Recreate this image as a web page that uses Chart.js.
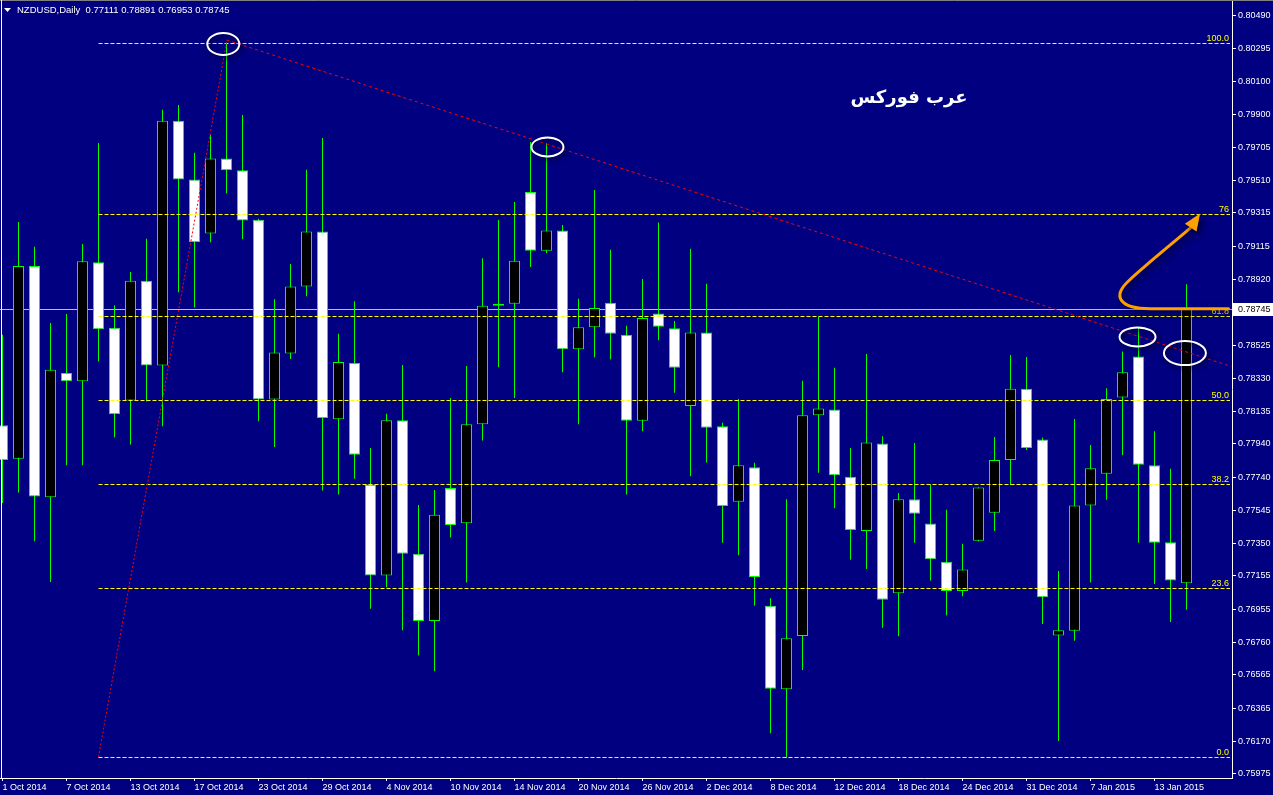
<!DOCTYPE html>
<html>
<head>
<meta charset="utf-8">
<script src="https://cdn.jsdelivr.net/npm/chart.js@4.4.1/dist/chart.umd.min.js"></script>
<style>
html,body{margin:0;padding:0;background:#000080;overflow:hidden}
canvas{display:block}
</style>
</head>
<body>
<canvas id="c" width="1273" height="795"></canvas>
<script>
// ---------- data ----------
const symbolName = 'NZDUSD,Daily';
const opens  = [0.78051,0.77851,0.78999,0.77622,0.78363,0.78313,0.79022,0.78631,0.78198,0.78911,
                0.78407,0.79864,0.79514,0.79193,0.79640,0.79570,0.79275,0.78204,0.78478,0.78878,
                0.79205,0.78087,0.78422,0.77698,0.77156,0.78081,0.77286,0.76886,0.77677,0.77468,
                0.78057,0.78763,0.78775,0.79440,0.79090,0.79211,0.78504,0.78634,0.78781,0.78590,
                0.78078,0.78716,0.78628,0.78166,0.78604,0.78045,0.77595,0.77801,0.76977,0.76480,
                0.76797,0.78110,0.78145,0.77745,0.77421,0.77942,0.77051,0.77610,0.77466,0.77239,
                0.77065,0.77363,0.77530,0.77845,0.78269,0.77966,0.76800,0.76827,0.77574,0.77763,
                0.78216,0.78460,0.77813,0.77354,0.77111];
const highs  = [0.78590,0.79261,0.79114,0.78660,0.78713,0.79131,0.79732,0.78766,0.78964,0.79161,
                0.79929,0.79958,0.79673,0.79779,0.80329,0.79899,0.79280,0.78802,0.79011,0.79573,
                0.79761,0.78596,0.78790,0.77916,0.78119,0.78410,0.77577,0.77666,0.78213,0.78404,
                0.79046,0.79273,0.79381,0.79738,0.79732,0.79243,0.78805,0.79452,0.79096,0.78643,
                0.78922,0.79258,0.78672,0.79102,0.78893,0.78066,0.78207,0.77828,0.77021,0.77610,
                0.78316,0.78699,0.78393,0.77916,0.78475,0.77986,0.77648,0.77945,0.77698,0.77548,
                0.77345,0.77682,0.77981,0.78469,0.78457,0.77978,0.77183,0.78089,0.77933,0.78272,
                0.78490,0.78634,0.78016,0.77792,0.78891];
const lows   = [0.77589,0.77651,0.77360,0.77118,0.77813,0.77813,0.78431,0.77978,0.77936,0.78192,
                0.78045,0.78843,0.78752,0.79140,0.79431,0.79158,0.78075,0.77922,0.78446,0.78819,
                0.77663,0.77639,0.77733,0.76959,0.77086,0.76830,0.76680,0.76586,0.77383,0.77115,
                0.77960,0.78396,0.78213,0.78993,0.79075,0.78366,0.78057,0.78454,0.78443,0.77639,
                0.78016,0.78557,0.78245,0.77748,0.77830,0.77351,0.77277,0.76977,0.76218,0.76071,
                0.76594,0.77769,0.77557,0.77251,0.77195,0.76845,0.76795,0.77351,0.77127,0.76918,
                0.77033,0.77361,0.77421,0.77695,0.77904,0.76868,0.76171,0.76768,0.77115,0.77607,
                0.77872,0.77351,0.77106,0.76880,0.76953];
const closes = [0.77845,0.78999,0.77627,0.78381,0.78313,0.79028,0.78622,0.78116,0.78911,0.78407,
                0.79864,0.79514,0.79140,0.79640,0.79570,0.79270,0.78204,0.78484,0.78878,0.79205,
                0.78095,0.78428,0.77875,0.77156,0.78081,0.77286,0.76886,0.77519,0.77457,0.78057,
                0.78763,0.78775,0.79031,0.79090,0.79211,0.78504,0.78634,0.78749,0.78596,0.78078,
                0.78690,0.78637,0.78393,0.78604,0.78036,0.77571,0.77813,0.77148,0.76483,0.76783,
                0.78110,0.78151,0.77754,0.77427,0.77948,0.77012,0.77610,0.77524,0.77254,0.77065,
                0.77192,0.77680,0.77845,0.78269,0.77916,0.77027,0.76830,0.77574,0.77795,0.78207,
                0.78366,0.77816,0.77351,0.77127,0.78745];

const xTickIndex  = [0,4,8,12,16,20,24,28,32,36,40,44,48,52,56,60,64,68,72];
const xTickLabels = ['1 Oct 2014','7 Oct 2014','13 Oct 2014','17 Oct 2014','23 Oct 2014','29 Oct 2014',
                     '4 Nov 2014','10 Nov 2014','14 Nov 2014','20 Nov 2014','26 Nov 2014','2 Dec 2014',
                     '8 Dec 2014','12 Dec 2014','18 Dec 2014','24 Dec 2014','31 Dec 2014','7 Jan 2015','13 Jan 2015'];
const yTickLabels = ['0.80490','0.80295','0.80100','0.79900','0.79705','0.79510','0.79315','0.79115',
                     '0.78920','0.78725','0.78525','0.78330','0.78135','0.77940','0.77740','0.77545',
                     '0.77350','0.77155','0.76955','0.76760','0.76565','0.76365','0.76170','0.75975'];

// Fibonacci retracement
const fibLevels = [100, 76, 61.8, 50, 38.2, 23.6, 0];
const fibLabels = ['100.0', '76', '61.8', '50.0', '38.2', '23.6', '0.0'];
const fibHigh = 0.80329;
const fibLow = 0.76076;
const fibStartIndex = 6;
const fibHighIndex = 14;

// trend line (index, price)
const trendStart = [14, 0.80345];
const trendEnd = [76.8, 0.78401];

// ellipse marks: index, price
const markIndex = [13.8, 34.06, 70.94, 73.9];
const markPrice = [0.80321, 0.79708, 0.78577, 0.78481];

// orange arrow path points (index, price)
const arrowIndex = [76.625, 71.75, 69.75, 69.375, 70.375, 71.4375, 73.0, 74.25, 74.85];
const arrowPrice = [0.78745, 0.78745, 0.78745, 0.78821, 0.78910, 0.79005, 0.79124, 0.79226, 0.79312];

const brandText = 'عرب فوركس';

// ---------- chart ----------
Chart.defaults.font.family = "'Liberation Sans', Arial, sans-serif";
Chart.defaults.font.size = 9;

const idx = opens.map((_, i) => i);
const bodies = idx.map(i => ({x: i, y: [opens[i], closes[i]]}));
const wicks = idx.map(i => ({x: i, y: [lows[i], highs[i]]}));
const bodyFill = idx.map(i => closes[i] > opens[i] ? '#000000' : '#ffffff');
const lastClose = closes[closes.length - 1];

const overlay = {
  id: 'overlay',
  beforeDraw(chart) {
    const c = chart.ctx;
    c.save();
    c.fillStyle = '#000080';
    c.fillRect(0, 0, chart.width, chart.height);
    c.restore();
  },
  beforeDatasetsDraw(chart) {
    const c = chart.ctx, a = chart.chartArea, ys = chart.scales.y;
    const y = Math.round(ys.getPixelForValue(lastClose)) + 0.5;
    c.save();
    c.strokeStyle = '#c0c0c0';
    c.lineWidth = 1;
    c.beginPath(); c.moveTo(a.left, y); c.lineTo(a.right, y); c.stroke();
    c.restore();
  },
  afterDatasetsDraw(chart) {
    const c = chart.ctx, a = chart.chartArea, xs = chart.scales.x, ys = chart.scales.y;
    const px = v => xs.getPixelForValue(v), py = v => ys.getPixelForValue(v);
    c.save();
    c.beginPath(); c.rect(a.left, a.top, a.right - a.left, a.bottom - a.top); c.clip();

    // fib levels
    c.lineWidth = 1;
    c.strokeStyle = '#ffff00';
    c.setLineDash([4, 2]);
    const fx0 = px(fibStartIndex);
    fibLevels.forEach((lv, k) => {
      const price = fibLow + (fibHigh - fibLow) * lv / 100;
      const y = Math.round(py(price)) + 0.5;
      c.beginPath(); c.moveTo(fx0, y); c.lineTo(a.right - 2, y); c.stroke();
    });
    c.setLineDash([]);
    c.fillStyle = '#ffff00';
    c.font = "9px 'Liberation Sans', Arial, sans-serif";
    c.textAlign = 'right';
    c.textBaseline = 'bottom';
    fibLevels.forEach((lv, k) => {
      const price = fibLow + (fibHigh - fibLow) * lv / 100;
      const y = Math.round(py(price));
      c.fillText(fibLabels[k], a.right - 3, y);
    });

    // fib diagonal (red dotted)
    c.strokeStyle = '#ff0000';
    c.lineWidth = 1;
    c.setLineDash([2, 2]);
    c.beginPath(); c.moveTo(px(fibStartIndex), py(fibLow)); c.lineTo(px(fibHighIndex), py(fibHigh)); c.stroke();
    // trend line
    c.setLineDash([3, 3]);
    c.beginPath(); c.moveTo(px(trendStart[0]), py(trendStart[1])); c.lineTo(px(trendEnd[0]), py(trendEnd[1])); c.stroke();
    c.setLineDash([]);

    // ellipses
    const radii = [[16, 11], [16, 9.5], [18, 9.5], [21, 12]];
    c.strokeStyle = '#ffffff';
    c.lineWidth = 2;
    c.shadowColor = 'rgba(0,0,30,0.9)';
    c.shadowBlur = 5;
    c.shadowOffsetX = 2; c.shadowOffsetY = 2;
    markIndex.forEach((mi, k) => {
      c.beginPath();
      c.ellipse(px(mi), py(markPrice[k]), radii[k][0], radii[k][1], 0, 0, Math.PI * 2);
      c.stroke();
    });

    // orange arrow
    const P = arrowIndex.map((ai, k) => [px(ai), py(arrowPrice[k])]);
    c.strokeStyle = '#ffa000';
    c.fillStyle = '#ffa000';
    c.lineWidth = 3;
    c.lineCap = 'round';
    c.shadowColor = 'rgba(0,0,30,0.8)';
    c.shadowBlur = 6; c.shadowOffsetX = 3; c.shadowOffsetY = 3;
    c.beginPath();
    c.moveTo(P[0][0], P[0][1]);
    c.lineTo(P[1][0], P[1][1]);
    c.bezierCurveTo(P[2][0], P[2][1], P[3][0], P[3][1], P[4][0], P[4][1]);
    c.bezierCurveTo(P[5][0], P[5][1], P[6][0], P[6][1], P[7][0], P[7][1]);
    c.stroke();
    const tip = P[8], base = P[7];
    const ang = Math.atan2(tip[1] - base[1], tip[0] - base[0]);
    const L = 17, W = 7;
    const bx = tip[0] - L * Math.cos(ang), by = tip[1] - L * Math.sin(ang);
    c.beginPath();
    c.moveTo(tip[0], tip[1]);
    c.lineTo(bx + W * Math.sin(ang), by - W * Math.cos(ang));
    c.lineTo(bx - W * Math.sin(ang), by + W * Math.cos(ang));
    c.closePath();
    c.fill();
    c.restore();

    // brand text
    c.save();
    c.fillStyle = '#ffffff';
    c.font = "bold 18px 'DejaVu Sans', sans-serif";
    c.textAlign = 'center';
    c.textBaseline = 'middle';
    c.fillText(brandText, 909, 98);
    c.restore();
  },
  afterDraw(chart) {
    const c = chart.ctx, a = chart.chartArea, ys = chart.scales.y;
    c.save();
    // frame
    c.strokeStyle = '#808080';
    c.lineWidth = 1;
    c.beginPath(); c.moveTo(0, 0.5); c.lineTo(chart.width, 0.5); c.stroke();
    c.strokeStyle = '#ffffff';
    c.beginPath(); c.moveTo(1.5, a.top); c.lineTo(1.5, a.bottom); c.stroke();

    // title
    c.fillStyle = '#ffffff';
    c.beginPath(); c.moveTo(4, 8); c.lineTo(11, 8); c.lineTo(7.5, 12); c.closePath(); c.fill();
    c.font = "9.5px 'Liberation Sans', Arial, sans-serif";
    c.textAlign = 'left';
    c.textBaseline = 'middle';
    const n = closes.length - 1;
    const f = v => v.toFixed(5);
    c.fillText(symbolName + '  ' + f(opens[n]) + ' ' + f(highs[n]) + ' ' + f(lows[n]) + ' ' + f(closes[n]), 17, 10.5);

    // current price box
    const y = Math.round(ys.getPixelForValue(lastClose));
    c.fillStyle = '#ffffff';
    c.fillRect(a.right + 1, y - 6, chart.width - a.right - 1, 13);
    c.fillStyle = '#000000';
    c.font = "9px 'Liberation Sans', Arial, sans-serif";
    c.fillText(f(lastClose), a.right + 6, y + 0.5);
    c.restore();
  }
};

new Chart(document.getElementById('c'), {
  type: 'bar',
  data: {
    datasets: [
      {label: 'body', data: bodies, backgroundColor: bodyFill, borderColor: '#00ff00', borderWidth: 1,
       borderSkipped: false, barThickness: 11, grouped: false, order: 0, inflateAmount: 0, minBarLength: 2},
      {label: 'wick', data: wicks, backgroundColor: '#00ff00', borderWidth: 0,
       barThickness: 1, grouped: false, order: 1, inflateAmount: 0}
    ]
  },
  options: {
    responsive: false,
    animation: false,
    events: [],
    layout: {padding: 0},
    plugins: {legend: {display: false}, tooltip: {enabled: false}, title: {display: false}},
    scales: {
      x: {
        type: 'linear', min: -0.15625, max: 76.84375, offset: false,
        grid: {display: true, drawOnChartArea: false, drawTicks: true, tickLength: 3, color: '#ffffff', offset: false},
        border: {display: true, color: '#ffffff'},
        ticks: {align: 'start', maxRotation: 0, autoSkip: false, color: '#ffffff', padding: 1,
                callback: (v, i) => xTickLabels[i]},
        afterBuildTicks: s => { s.ticks = xTickIndex.map(v => ({value: v})); },
        afterFit: s => { s.height = 17; s.paddingLeft = 0; s.paddingRight = 0; }
      },
      y: {
        type: 'linear', position: 'right', min: 0.75951, max: 0.80583, beginAtZero: false,
        grid: {drawOnChartArea: false, drawTicks: true, tickLength: 4, color: '#ffffff'},
        border: {display: true, color: '#ffffff'},
        ticks: {color: '#ffffff', padding: 2, callback: v => v.toFixed(5)},
        afterBuildTicks: s => { s.ticks = yTickLabels.map(t => ({value: parseFloat(t)})).reverse(); },
        afterFit: s => { s.width = 41; s.paddingTop = 0; s.paddingBottom = 0; }
      }
    }
  },
  plugins: [overlay]
});
</script>
</body>
</html>
